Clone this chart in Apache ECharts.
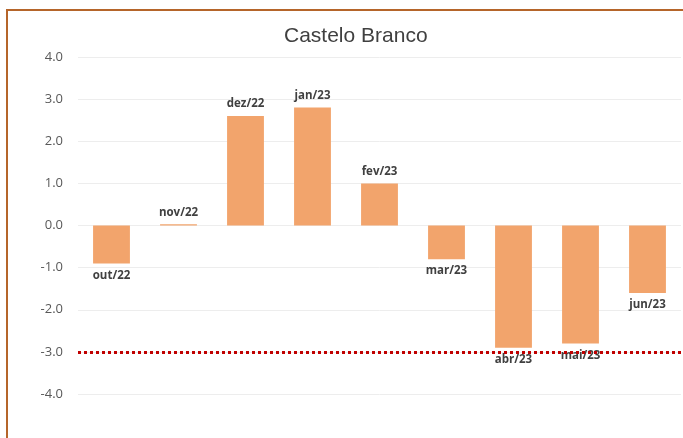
<!DOCTYPE html>
<html>
<head>
<meta charset="utf-8">
<script src="https://cdn.jsdelivr.net/npm/echarts@6/dist/echarts.min.js"></script>
<style>
  html, body { margin: 0; padding: 0; background: #fff; }
  #chart { width: 683px; height: 438px; }
</style>
</head>
<body>
<div id="chart"></div>
<script>
// data
const categories = ['out/22', 'nov/22', 'dez/22', 'jan/23', 'fev/23', 'mar/23', 'abr/23', 'mai/23', 'jun/23'];
const values = [-0.9, 0.03, 2.6, 2.8, 1.0, -0.8, -2.9, -2.8, -1.6];
const thresholdValue = -3.0;

const chart = echarts.init(document.getElementById('chart'), null, { renderer: 'canvas' });

chart.setOption({
    backgroundColor: '#fff',
    animation: false,
    title: {
        text: 'Castelo Branco',
        left: 279,
        top: 21,
        textStyle: {
            color: '#404040',
            fontSize: 21,
            fontWeight: 'normal',
            fontFamily: 'Liberation Sans, sans-serif',
        },
    },
    // outer chart frame (right and bottom run off the picture)
    graphic: [{
        type: 'rect',
        silent: true,
        shape: { x: 7, y: 10, width: 720, height: 460 },
        style: { fill: 'none', stroke: '#B5652A', lineWidth: 2 },
    }],
    grid: { left: 78, right: 2, top: 57, bottom: 44, containLabel: false },
    xAxis: {
        type: 'category',
        data: categories,
        axisLine: { show: false },
        axisTick: { show: false },
        axisLabel: { show: false },
        splitLine: { show: false },
    },
    yAxis: {
        type: 'value',
        min: -4,
        max: 4,
        interval: 1,
        axisLine: { show: false },
        axisTick: { show: false },
        axisLabel: {
            color: '#595959',
            fontSize: 13,
            fontFamily: 'Open Sans, sans-serif',
            margin: 15,
            formatter: (v) => v.toFixed(1),
        },
        splitLine: { lineStyle: { color: '#EDEDED', width: 1 } },
    },
    series: [{
        type: 'bar',
        // category names sit at the bar ends: above for positive, below for negative
        data: values.map((v) => ({
            value: v,
            label: { position: v < 0 ? 'bottom' : 'top' },
        })),
        barWidth: '55%',
        itemStyle: { color: '#F2A46C' },
        label: {
            show: true,
            distance: 6,
            formatter: (p) => p.name,
            color: '#404040',
            fontSize: 11.5,
            fontWeight: 'bold',
            fontFamily: 'Open Sans, sans-serif',
        },
        markLine: {
            silent: true,
            symbol: 'none',
            label: { show: false },
            lineStyle: { color: '#C00000', type: [3, 3], width: 3 },
            data: [{ yAxis: thresholdValue }],
        },
    }],
});
</script>
</body>
</html>
